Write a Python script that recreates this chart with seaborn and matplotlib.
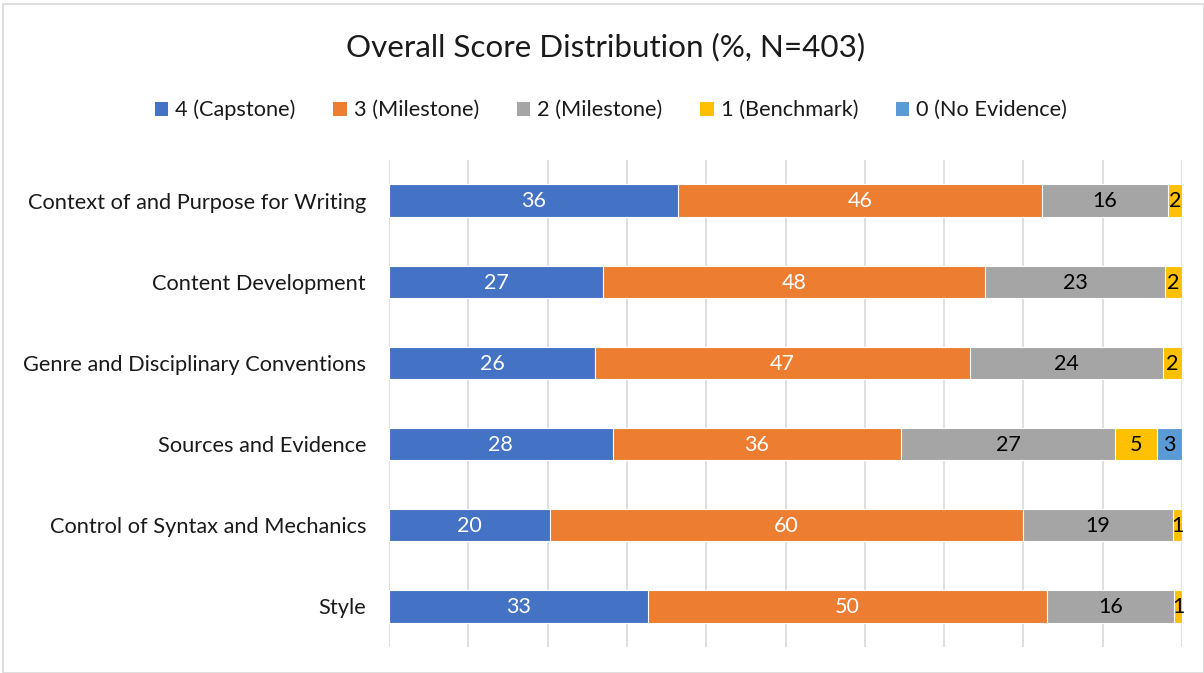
import matplotlib
matplotlib.use("Agg")
import matplotlib.pyplot as plt
import seaborn as sns
import pandas as pd
import numpy as np
from matplotlib.patches import Patch, Rectangle

categories = ["Context of and Purpose for Writing", "Content Development",
              "Genre and Disciplinary Conventions", "Sources and Evidence",
              "Control of Syntax and Mechanics", "Style"]
series = ["4 (Capstone)", "3 (Milestone)", "2 (Milestone)", "1 (Benchmark)", "0 (No Evidence)"]
score4 = [36.4, 27.0, 26.0, 28.2, 20.3, 32.6]
score3 = [46.0, 48.2, 47.3, 36.4, 59.6, 50.4]
score2 = [15.8, 22.7, 24.3, 27.0, 19.0, 16.0]
score1 = [1.8, 2.1, 2.4, 5.2, 1.1, 1.0]
score0 = [0.0, 0.0, 0.0, 3.2, 0.0, 0.0]
colors = ["#4472C4", "#ED7D31", "#A5A5A5", "#FFC000", "#5B9BD5"]
label_colors = ["white", "white", "black", "black", "black"]

sns.set_theme(style="white")
plt.rcParams["font.family"] = ["Lato", "DejaVu Sans"]

vals = np.array([score4, score3, score2, score1, score0])
vals = vals / vals.sum(axis=0) * 100
cum = np.cumsum(vals, axis=0)

fig = plt.figure(figsize=(12.04, 6.73), dpi=100)
ax = fig.add_axes([389/1204, 1-647/673, (1182-389)/1204, (647-160)/673])

# draw cumulative bars, largest first so that each segment shows
for i in range(len(series) - 1, -1, -1):
    df = pd.DataFrame({"cat": categories, "val": cum[i]})
    sns.barplot(data=df, x="val", y="cat", orient="h", color=colors[i],
                width=0.4, edgecolor="white", linewidth=0.8, saturation=1,
                ax=ax, zorder=3)

for i in range(len(series)):
    for j in range(len(categories)):
        v = vals[i, j]
        raw = [score4, score3, score2, score1, score0][i][j]
        if raw <= 0:
            continue
        ax.text(cum[i, j] - v / 2, j + 0.01, f"{raw:.0f}", ha="center", va="center",
                color=label_colors[i], fontsize=15.5, zorder=5)

ax.set_xlim(0, 100)
ax.set_ylim(5.5, -0.5)
ax.set_xticks(np.arange(0, 101, 10))
ax.xaxis.grid(True, color="#D9D9D9", linewidth=1.2, zorder=0)
ax.set_axisbelow(True)
ax.tick_params(axis="x", labelbottom=False, length=0)
ax.tick_params(axis="y", length=0, pad=16.5, labelsize=15.7, labelcolor="#1a1a1a")
ax.set_xlabel("")
ax.set_ylabel("")
for s in ax.spines.values():
    s.set_visible(False)

fig.text(606/1204, 1-47/673, "Overall Score Distribution (%, N=403)", ha="center",
         va="center", fontsize=22.6, color="#1a1a1a")

handles = [Patch(facecolor=c, edgecolor="none") for c in colors]
fig.legend(handles, series, loc="center", bbox_to_anchor=(611/1204, 1-110/673),
           ncol=5, frameon=False, fontsize=15.7, handlelength=0.6, handleheight=0.6,
           handletextpad=0.32, columnspacing=1.75, labelcolor="#1a1a1a")

fig.patches.append(Rectangle((3/1204, 0), 1 - 3/1204, 1 - 4/673, transform=fig.transFigure,
                             fill=False, edgecolor="#D9D9D9", linewidth=1.2))

fig.savefig("out.png", dpi=100)
